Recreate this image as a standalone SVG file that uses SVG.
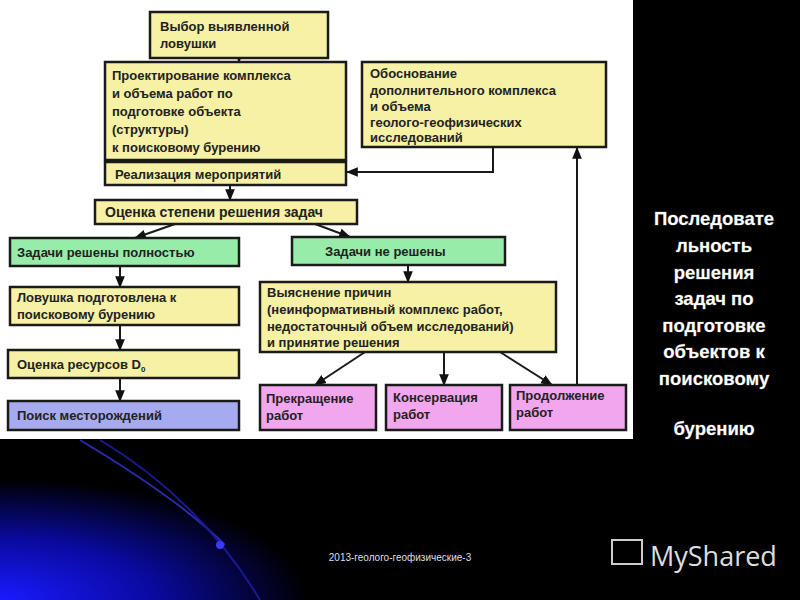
<svg xmlns="http://www.w3.org/2000/svg" width="800" height="600" viewBox="0 0 800 600">
<defs>
<radialGradient id="bg" cx="0" cy="1" r="0.55">
<stop offset="0" stop-color="#1a1aff"/><stop offset="0.5" stop-color="#0a0aa0"/><stop offset="1" stop-color="#000"/>
</radialGradient>
<marker id="a" viewBox="0 0 10 10" refX="9" refY="5" markerWidth="6" markerHeight="6" orient="auto"><path d="M0,1 L10,5 L0,9 z" fill="#111"/></marker>
</defs>
<style>
.y{fill:#f6f1a4}.g{fill:#98ecaa}.b{fill:#a6aaee}.m{fill:#f2a6ee}
rect{stroke:#1a1a1a;stroke-width:2.5}
text{font-family:"Liberation Sans",Arial,sans-serif;font-weight:bold;font-size:13px;fill:#222}
.c line,.c path{stroke:#1a1a1a;stroke-width:2;fill:none;marker-end:url(#a)}
.r{fill:#fff;font-size:18.5px;text-anchor:middle;stroke:#444;stroke-width:0.8;paint-order:stroke}
</style>
<rect width="800" height="600" fill="#000" style="stroke:none"/>
<rect x="0" y="380" width="560" height="220" fill="url(#bg)" style="stroke:none"/>
<path d="M80,440 Q180,500 225,545" stroke="#2a2ab0" stroke-width="2" fill="none"/>
<path d="M100,440 Q200,500 260,600" stroke="#1a1a90" stroke-width="2" fill="none"/>
<circle cx="220" cy="545" r="4" fill="#3a3aff"/>
<rect x="0" y="0" width="633" height="439" fill="#fff" style="stroke:none"/>
<g class="c">
<line x1="239" y1="58" x2="239" y2="62"/>
<line x1="230" y1="160" x2="230" y2="162"/>
<path d="M493,147 V172 H347"/>
<line x1="230" y1="185" x2="230" y2="200"/>
<line x1="175" y1="224" x2="135" y2="238"/>
<line x1="315" y1="224" x2="350" y2="237"/>
<line x1="120" y1="266" x2="120" y2="287"/>
<line x1="408" y1="265" x2="408" y2="282"/>
<line x1="120" y1="325" x2="120" y2="350"/>
<line x1="120" y1="378" x2="120" y2="401"/>
<line x1="365" y1="352" x2="315" y2="385"/>
<line x1="444" y1="352" x2="444" y2="385"/>
<line x1="500" y1="352" x2="552" y2="385"/>
<line x1="577" y1="385" x2="577" y2="148"/>
</g>
<g id="n1"><rect class="y" x="150" y="12" width="178" height="46"/><text x="160" y="31">Выбор выявленной</text><text x="160" y="48">ловушки</text></g>
<g id="n2"><rect class="y" x="105" y="62" width="241" height="98"/><text x="112" y="80">Проектирование комплекса</text><text x="112" y="98">и объема работ по</text><text x="112" y="116">подготовке объекта</text><text x="112" y="134">(структуры)</text><text x="112" y="152">к поисковому бурению</text></g>
<g id="n3"><rect class="y" x="362" y="62" width="244" height="85"/><text x="370" y="78">Обоснование</text><text x="370" y="95">дополнительного комплекса</text><text x="370" y="111">и объема</text><text x="370" y="127">геолого-геофизических</text><text x="370" y="142">исследований</text></g>
<g id="n4"><rect class="y" x="105" y="162" width="241" height="23"/><text x="115" y="179">Реализация мероприятий</text></g>
<g id="n5"><rect class="y" x="95" y="200" width="262" height="24"/><text x="105" y="217" style="font-size:14px">Оценка степени решения задач</text></g>
<g id="n6"><rect class="g" x="10" y="238" width="229" height="28"/><text x="17" y="257">Задачи решены полностью</text></g>
<g id="n7"><rect class="g" x="292" y="237" width="213" height="28"/><text x="325" y="256">Задачи не решены</text></g>
<g id="n8"><rect class="y" x="10" y="287" width="229" height="38"/><text x="17" y="302">Ловушка подготовлена к</text><text x="17" y="319">поисковому бурению</text></g>
<g id="n9"><rect class="y" x="260" y="282" width="296" height="70"/><text x="267" y="297">Выяснение причин</text><text x="267" y="314">(неинформативный комплекс работ,</text><text x="267" y="331">недостаточный объем исследований)</text><text x="267" y="347">и принятие решения</text></g>
<g id="n10"><rect class="y" x="8" y="350" width="231" height="28"/><text x="17" y="369">Оценка ресурсов D<tspan font-size="8" dy="3">0</tspan></text></g>
<g id="n11"><rect class="b" x="8" y="401" width="231" height="29"/><text x="17" y="420">Поиск месторождений</text></g>
<g id="n12"><rect class="m" x="260" y="385" width="116" height="45"/><text x="266" y="403">Прекращение</text><text x="266" y="420">работ</text></g>
<g id="n13"><rect class="m" x="386" y="385" width="116" height="45"/><text x="393" y="402">Консервация</text><text x="393" y="419">работ</text></g>
<g id="n14"><rect class="m" x="510" y="385" width="116" height="45"/><text x="516" y="400">Продолжение</text><text x="516" y="417">работ</text></g>
<g id="side">
<text class="r" x="714" y="225">Последовате</text>
<text class="r" x="714" y="252">льность</text>
<text class="r" x="714" y="279">решения</text>
<text class="r" x="714" y="305">задач по</text>
<text class="r" x="714" y="332">подготовке</text>
<text class="r" x="714" y="358">объектов к</text>
<text class="r" x="714" y="385">поисковому</text>
<text class="r" x="714" y="435">бурению</text>
</g>
<text x="400" y="561" style="font-weight:normal;font-size:10px;fill:#dde;text-anchor:middle">2013-геолого-геофизические-3</text>
<g id="logo"><rect x="612" y="540" width="30" height="24" fill="none" style="stroke:#ccc;stroke-width:2"/><text x="650" y="566" style="font-weight:normal;font-size:27px;fill:#ddd;font-family:'Open Sans',sans-serif">MyShared</text></g>
</svg>
